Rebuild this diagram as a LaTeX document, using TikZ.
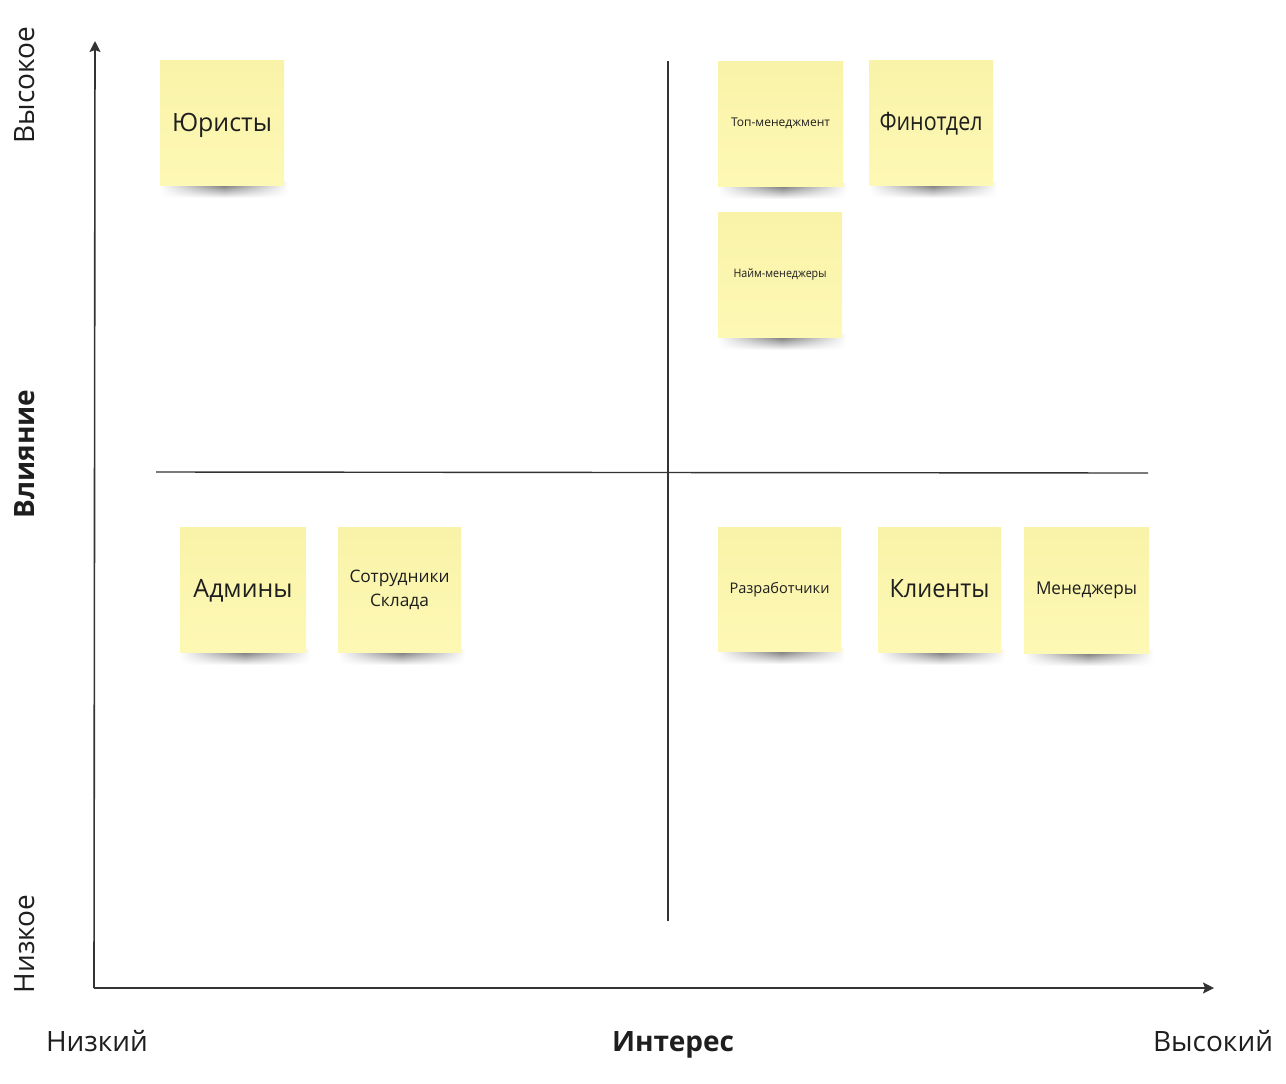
\documentclass[tikz,border=0pt]{standalone}
\usepackage{fontspec}
\usepackage{graphicx}
\setmainfont{Open Sans}
\usetikzlibrary{arrows.meta,fadings}
\definecolor{note}{HTML}{FDF8B4}
\definecolor{notetop}{HTML}{F9F3A9}
\definecolor{ink}{HTML}{333333}
\definecolor{txt}{HTML}{1E1E1E}
\tikzfading[name=hfade, left color=transparent!100, right color=transparent!100, middle color=transparent!0]
\tikzset{
  notebox/.style={inner sep=0pt, align=center, text=txt, top color=notetop, bottom color=note, shading angle=0},
  axisline/.style={draw=ink, line width=0.8pt},
  quadline/.style={draw=ink, line width=0.7pt},
  axislabel/.style={text=txt, font=\fontsize{14}{16}\selectfont, inner sep=0pt},
  shadowband/.style={top color=black!65, bottom color=white, path fading=hfade},
}
% name, x1, y1, x2, y2, font, text width (px), text, vertical raise
\newcommand{\sticky}[9]{%
  \shade[shadowband] ({#2},{#5-3}) rectangle ({#4+4},{#5+13});
  \node[notebox, minimum width={(#4-#2)*0.5pt}, minimum height={(#5-#3)*0.5pt}]
    (#1) at ({(#2+#4)/2},{(#3+#5)/2})
    {\raisebox{#9}[\height][\depth]{\resizebox{#7\dimexpr 0.5pt\relax}{\height}{#6\begin{tabular}{@{}c@{}}#8\end{tabular}}}};
}
\begin{document}
\begin{tikzpicture}[x=0.5pt, y=-0.5pt]
\useasboundingbox (0,0) rectangle (1286,1083);
% quadrant lines
\coordinate (vq1) at (668,61);
\coordinate (vq2) at (668,921);
\coordinate (hq1) at (156,472);
\coordinate (hq2) at (1148,473);
\draw[quadline] (vq1) -- (vq2);
\draw[quadline] (hq1) -- (hq2);
% axes
\coordinate (o) at (94,988);
\coordinate (ytop) at (95,41);
\coordinate (xend) at (1214,988);
\draw[axisline, -{Stealth[length=5.5pt, width=5.5pt, inset=1pt]}] (o) -- (ytop);
\draw[axisline, -{Stealth[length=5.5pt, width=5.5pt, inset=1pt]}] (o) -- (xend);
% notes
\sticky{jur}{160}{60}{284}{185}{\fontsize{12.6}{15}\selectfont}{100}{Юристы}{-1.3pt}
\sticky{top}{718}{61}{843}{186}{\fontsize{6}{8}\selectfont}{99}{Топ-менеджмент}{0.3pt}
\sticky{fin}{869}{60}{993}{185}{\fontsize{12.6}{15}\selectfont}{103}{Финотдел}{-1pt}
\sticky{hire}{718}{212}{842}{337}{\fontsize{5.8}{8}\selectfont}{93}{Найм-менеджеры}{0.3pt}
\sticky{adm}{180}{527}{306}{652}{\fontsize{12.6}{15}\selectfont}{99}{Админы}{-1pt}
\sticky{wh}{338}{527}{461}{652}{\fontsize{8.6}{12}\selectfont}{100}{Сотрудники\\Склада}{0pt}
\sticky{dev}{718}{527}{841}{651}{\fontsize{7.3}{9}\selectfont}{100}{Разработчики}{-0.4pt}
\sticky{cli}{878}{527}{1001}{652}{\fontsize{12.6}{15}\selectfont}{100}{Клиенты}{-1pt}
\sticky{mgr}{1024}{527}{1149}{653}{\fontsize{8.8}{11}\selectfont}{101}{Менеджеры}{0pt}
% axis labels
\node[axislabel, rotate=90] (hi) at (25,85) {Высокое};
\node[axislabel, rotate=90, font=\fontsize{14}{16}\selectfont\bfseries] (infl) at (25,454) {Влияние};
\node[axislabel, rotate=90] (lo) at (25,944) {Низкое};
\node[axislabel, anchor=base] (low) at (97,1051) {Низкий};
\node[axislabel, anchor=base, font=\fontsize{14}{16}\selectfont\bfseries] (int) at (673,1051) {Интерес};
\node[axislabel, anchor=base] (high) at (1213,1051) {Высокий};
\end{tikzpicture}
\end{document}
